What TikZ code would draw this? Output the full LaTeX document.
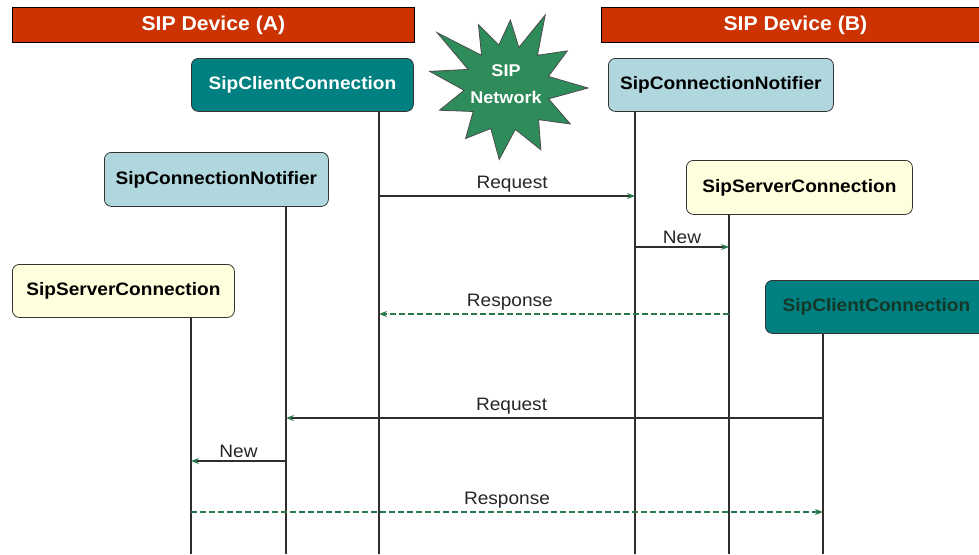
\documentclass[tikz,border=0pt]{standalone}
\usepackage{fontspec}
\setmainfont{Liberation Sans}[FakeStretch=1.06]
\usetikzlibrary{arrows.meta}
\definecolor{hdrred}{RGB}{204,51,0}
\definecolor{tealbox}{RGB}{0,128,128}
\definecolor{ltblue}{RGB}{176,215,222}
\definecolor{ltyellow}{RGB}{255,255,221}
\definecolor{stargreen}{RGB}{46,139,90}
\definecolor{respgreen}{RGB}{40,120,75}
\definecolor{darktext}{RGB}{20,55,40}
\definecolor{linegray}{RGB}{50,45,45}
\begin{document}
\begin{tikzpicture}[x=1pt,y=-1pt,
  hdr/.style={draw=black, line width=0.8pt, fill=hdrred, text=white, anchor=north west,
    font=\fontsize{20}{22}\selectfont\bfseries, inner sep=0pt, minimum height=35pt},
  obj/.style={draw=black!80, line width=0.8pt, rounded corners=7pt, minimum width=222pt,
    minimum height=53pt, anchor=north west, font=\fontsize{18}{20}\selectfont\bfseries, inner sep=0pt},
  life/.style={draw=linegray, line width=1.2pt},
  msg/.style={draw=linegray, line width=1.2pt, -{Stealth[length=8pt,width=6pt,color=respgreen]}},
  resp/.style={draw=respgreen, line width=1.2pt, dash pattern=on 6pt off 3pt, -{Stealth[length=8pt,width=6pt]}},
  lbl/.style={font=\fontsize{18}{20}\selectfont, anchor=south, inner sep=3pt, text=black!85}]

\useasboundingbox (0,0) rectangle (979,554);
\fill[white] (0,0) rectangle (979,554);

% headers
\node[hdr, minimum width=402pt] (ha) at (12,7) {SIP Device (A)};
\node[hdr, minimum width=388pt] (hb) at (601,7) {SIP Device (B)};

% network starburst
\draw[fill=stargreen, draw=black!70, line width=0.8pt]
  ([shift={(508,88)}]0:80)
  \foreach \a/\r in {15/42,30/72,46/44,62/70,80/42,97/72,113/44,130/66,146/42,162/72,177/44,192/80,205/44,218/90,231/42,245/70,258/44,272/68,285/42,297/82,312/44,328/70,344/42} { -- ([shift={(508,88)}]\a:\r) } -- cycle;
\node[text=white, align=center, font=\fontsize{17}{27}\selectfont\bfseries] (net) at (506,84) {SIP\\Network};

% objects
\node[obj, fill=tealbox, text=white] (ca) at (191,58) {SipClientConnection};
\node[obj, fill=ltblue, minimum width=225pt] (nb) at (608,58) {SipConnectionNotifier};
\node[obj, fill=ltblue, minimum width=224pt, minimum height=54pt] (na) at (104,152) {SipConnectionNotifier};
\node[obj, fill=ltyellow, minimum width=226pt, minimum height=54pt] (sb) at (686,160) {SipServerConnection};
\node[obj, fill=ltyellow] (sa) at (12,264) {SipServerConnection};
\node[obj, fill=tealbox, text=darktext] (cb) at (765,280) {SipClientConnection};

% lifelines
\coordinate (bot) at (0,554);
\coordinate (Lca) at ([xshift=188pt]ca.south west);
\coordinate (Lnb) at ([xshift=27pt]nb.south west);
\coordinate (Lna) at ([xshift=182pt]na.south west);
\coordinate (Lsb) at ([xshift=43pt]sb.south west);
\coordinate (Lsa) at ([xshift=179pt]sa.south west);
\coordinate (Lcb) at ([xshift=58pt]cb.south west);
\foreach \l in {Lca,Lnb,Lna,Lsb,Lsa,Lcb} { \draw[life] (\l) -- (\l |- bot); }

% messages
\draw[msg] (Lca |- 0,196) -- (Lnb |- 0,196) node[lbl, pos=0.52] {Request};
\draw[msg] (Lnb |- 0,247) -- (Lsb |- 0,247) node[lbl, midway] {New};
\draw[resp] (Lsb |- 0,314) -- (Lca |- 0,314) node[lbl, pos=0.626] {Response};
\draw[msg] (Lcb |- 0,418) -- (Lna |- 0,418) node[lbl, pos=0.58] {Request};
\draw[msg] (Lna |- 0,461) -- (Lsa |- 0,461) node[lbl, midway] {New};
\draw[resp] (Lsa |- 0,512) -- (Lcb |- 0,512) node[lbl, midway] {Response};
\end{tikzpicture}
\end{document}
